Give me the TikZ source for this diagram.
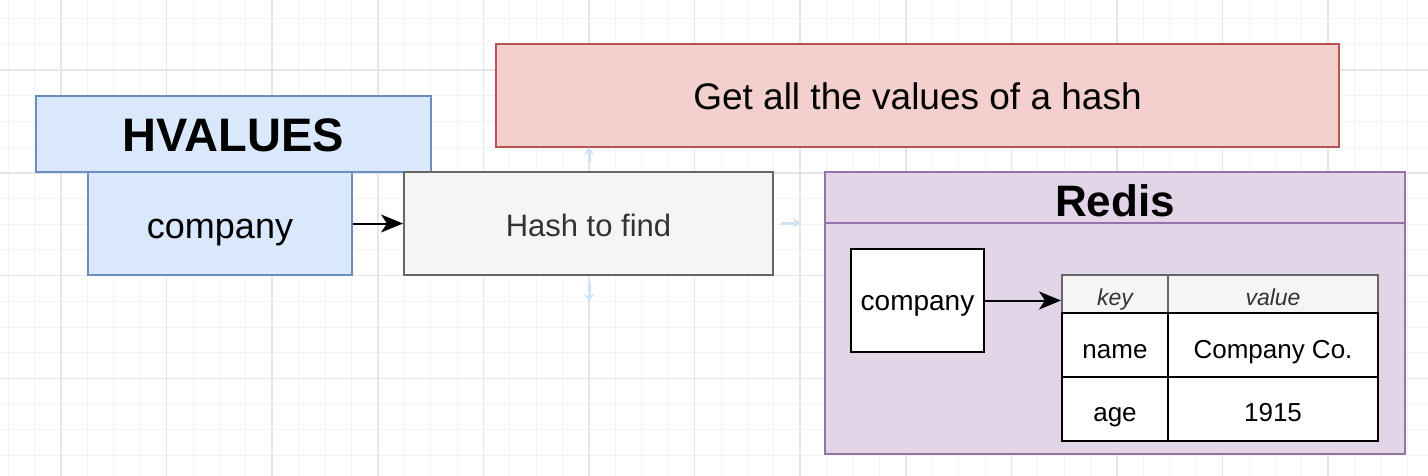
\documentclass[tikz,border=0pt]{standalone}
\usepackage{fontspec}
\setmainfont{Liberation Sans}
\usetikzlibrary{arrows.meta}
\definecolor{bluefill}{HTML}{DAE8FC}
\definecolor{bluedraw}{HTML}{6C8EBF}
\definecolor{redfill}{HTML}{F3CFCD}
\definecolor{reddraw}{HTML}{B85450}
\definecolor{purfill}{HTML}{E1D5E7}
\definecolor{purdraw}{HTML}{9673A6}
\definecolor{grayfill}{HTML}{F5F5F5}
\definecolor{graydraw}{HTML}{666666}
\definecolor{txtgray}{HTML}{333333}
\definecolor{gridminor}{HTML}{F3F3F3}
\definecolor{gridmajor}{HTML}{E6E6E6}
\definecolor{hint}{HTML}{CFE3F4}
\newcommand{\fsz}[1]{\fontsize{#1}{#1}\selectfont}
\tikzset{
  box/.style={rectangle, draw, line width=2pt, inner sep=0pt, align=center, text depth=0pt},
  bluebox/.style={box, fill=bluefill, draw=bluedraw},
  cell/.style={box, fill=white, draw=black, font=\fsz{26}},
  hcell/.style={box, fill=grayfill, draw=graydraw, text=txtgray, font=\fsz{23}\itshape},
  conn/.style={line width=2pt, -{Stealth[length=22pt,width=18pt,inset=6pt]}},
  hintarrow/.style={hint, line width=3pt, -{Stealth[length=8pt,width=10pt]}}
}
\begin{document}
\begin{tikzpicture}[x=1pt,y=-1pt]
\useasboundingbox (0,0) rectangle (1428,476);
\fill[white] (0,0) rectangle (1428,476);
% grid
\foreach \i in {-2,...,53} {
  \pgfmathsetmacro{\gx}{61+26.4*\i}
  \draw[gridminor, line width=1pt] (\gx,0) -- (\gx,476);
}
\foreach \i in {-2,...,16} {
  \pgfmathsetmacro{\gy}{70+25.7*\i}
  \draw[gridminor, line width=1pt] (0,\gy) -- (1428,\gy);
}
\foreach \i in {0,...,13} {
  \pgfmathsetmacro{\gx}{61+105.6*\i}
  \draw[gridmajor, line width=1.5pt] (\gx,0) -- (\gx,476);
}
\foreach \i in {0,...,4} {
  \pgfmathsetmacro{\gy}{70+102.8*\i}
  \draw[gridmajor, line width=1.5pt] (0,\gy) -- (1428,\gy);
}
% left part
\node[bluebox, minimum width=395pt, minimum height=76pt, font=\fsz{47}\bfseries, text height=36pt] (hv) at (233.5,134) {HVALUES};
\node[bluebox, minimum width=264pt, minimum height=103pt, font=\fsz{36}, text height=29pt] (comp) at (220,223.5) {company};
\node[box, fill=grayfill, draw=graydraw, text=txtgray, minimum width=369pt, minimum height=103pt, font=\fsz{31}, text height=26pt] (hash) at (588.5,223.5) {Hash to find};
\node[box, fill=redfill, draw=reddraw, minimum width=843pt, minimum height=103pt, font=\fsz{37}, text height=29pt] (goal) at (917.5,95.5) {Get all the values of a hash};
\draw[conn] (comp.east) -- (hash.west);
% hint arrows
\coordinate (hu1) at (589,163); \coordinate (hu2) at (589,147);
\coordinate (hr1) at (781,223); \coordinate (hr2) at (801,223);
\coordinate (hd1) at (589,283); \coordinate (hd2) at (589,302);
\draw[hintarrow] (hu1) -- (hu2);
\draw[hintarrow] (hr1) -- (hr2);
\draw[hintarrow] (hd1) -- (hd2);
% Redis container
\node[box, fill=purfill, draw=purdraw, minimum width=580pt, minimum height=282pt] (redis) at (1115,313) {};
\coordinate (hl) at (825,223); \coordinate (hr) at (1405,223);
\draw[purdraw, line width=2pt] (hl) -- (hr);
\node[font=\fsz{44}\bfseries, inner sep=0pt, anchor=base] (rtitle) at (1115,216) {Redis};
\node[cell, minimum width=133pt, minimum height=103pt, font=\fsz{28}, text height=19pt] (icomp) at (917.5,300.5) {company};
% table
\node[hcell, minimum width=106pt, minimum height=38pt, text height=22pt] (key) at (1115,294) {key};
\node[hcell, minimum width=210pt, minimum height=38pt, text height=22pt] (val) at (1273,294) {value};
\node[cell, minimum width=106pt, minimum height=64pt, text height=26pt] (name) at (1115,345) {name};
\node[cell, minimum width=210pt, minimum height=64pt, text height=26pt] (cname) at (1273,345) {Company Co.};
\node[cell, minimum width=106pt, minimum height=64pt, text height=25.4pt] (age) at (1115,409) {age};
\node[cell, minimum width=210pt, minimum height=64pt, text height=25.4pt] (year) at (1273,409) {1915};
\draw[conn] (icomp.east) -- (icomp.east -| key.west);
\end{tikzpicture}
\end{document}
